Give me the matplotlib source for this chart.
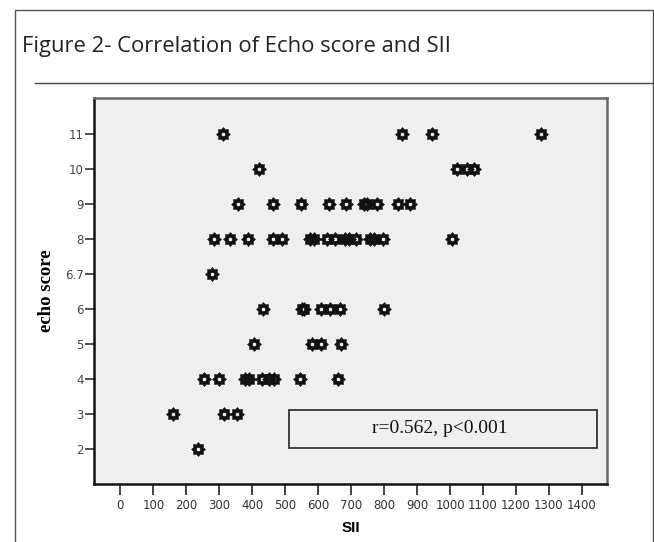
import numpy as np
import matplotlib
matplotlib.use('Agg')
import matplotlib.pyplot as plt
from matplotlib.path import Path
from matplotlib.patches import Rectangle
from matplotlib.lines import Line2D

# echo score levels as shown on the y axis (evenly spaced categories)
echo_levels = ['2', '3', '4', '5', '6', '6.7', '8', '9', '10', '11']

# SII values, grouped by echo score
sii_11 = [312, 854, 945, 1276]
sii_10 = [421, 1022, 1051, 1073]
sii_9 = [357, 463, 548, 633, 685, 738, 748, 779, 843, 879]
sii_8 = [285, 333, 388, 463, 490, 575, 588, 627, 652, 682, 692, 715, 758, 768, 797, 1006]
sii_67 = [279]
sii_6 = [434, 550, 558, 609, 636, 667, 800]
sii_5 = [406, 580, 610, 670]
sii_4 = [253, 298, 378, 390, 430, 452, 466, 545, 661]
sii_3 = [160, 315, 355]
sii_2 = [236]

groups = {'2': sii_2, '3': sii_3, '4': sii_4, '5': sii_5, '6': sii_6,
          '6.7': sii_67, '8': sii_8, '9': sii_9, '10': sii_10, '11': sii_11}

x_ticks = list(range(0, 1401, 100))
stat_text = 'r=0.562, p<0.001'

sii = []
echo_pos = []
for lvl in echo_levels:
    for v in groups[lvl]:
        sii.append(v)
        echo_pos.append(echo_levels.index(lvl))

# SPSS-like "sun" marker: 8 point star with a hole in the middle
star = Path.unit_regular_star(8, 0.72)
sv = star.vertices
ang = np.linspace(0, 2 * np.pi, 13)[::-1]
hole = np.column_stack([0.32 * np.cos(ang), 0.32 * np.sin(ang)])
verts = np.concatenate([sv, hole])
codes = [Path.MOVETO] + [Path.LINETO] * (len(sv) - 2) + [Path.CLOSEPOLY] + \
        [Path.MOVETO] + [Path.LINETO] * 11 + [Path.CLOSEPOLY]
sun = Path(verts, codes)

plt.rcParams['figure.dpi'] = 100
fig = plt.figure(figsize=(6.54, 5.42), facecolor='white')

# outer frame and header rule
fig.add_artist(Line2D([15 / 654, 15 / 654, 653 / 654, 653 / 654], [0, 1 - 10 / 542, 1 - 10 / 542, 0],
                      transform=fig.transFigure, color='#555555', lw=1.0))
fig.add_artist(Line2D([35 / 654, 1.0], [1 - 83 / 542, 1 - 83 / 542],
                      transform=fig.transFigure, color='#444444', lw=1.0))
fig.text(22 / 654, 1 - 52 / 542, 'Figure 2- Correlation of Echo score and SII',
         fontsize=15.8, family=['Open Sans', 'DejaVu Sans'], color='#222222', va='baseline')

ax = fig.add_axes([94 / 654, 58 / 542, 513 / 654, 386 / 542])
ax.set_facecolor('#efefef')
ax.scatter(sii, echo_pos, marker=sun, s=100, facecolor='#111111', edgecolor='#111111',
           linewidths=0.5, zorder=3)

ax.set_xlim(-80, 1476)
ax.set_ylim(-1.0, 10.03)
ax.set_xticks(x_ticks)
ax.set_xticklabels([str(t) for t in x_ticks], family=['Liberation Sans Narrow', 'DejaVu Sans'],
                   fontsize=8.5, color='#333333')
ax.set_yticks(range(len(echo_levels)))
ax.set_yticklabels(echo_levels, family=['Liberation Sans Narrow', 'DejaVu Sans'],
                   fontsize=8.5, color='#444444')
ax.tick_params(axis='x', length=8, width=1.2, pad=2.5, color='#222222')
ax.tick_params(axis='y', length=6.5, width=1.2, pad=1, color='#333333')

for side in ['left', 'bottom']:
    ax.spines[side].set_linewidth(1.8)
    ax.spines[side].set_color('#111111')
for side in ['top', 'right']:
    ax.spines[side].set_linewidth(1.8)
    ax.spines[side].set_color('#666666')

ax.set_xlabel('SII', fontsize=11, fontweight='bold', family=['Liberation Sans', 'DejaVu Sans'],
              labelpad=7)
ax.set_ylabel('echo score', fontsize=13.5, fontweight='bold', family=['Liberation Serif', 'DejaVu Serif'],
              labelpad=7)

# correlation box
ax.add_patch(Rectangle((0.380, 0.0935), 0.6005, 0.0985, transform=ax.transAxes,
                       facecolor='none', edgecolor='#333333', lw=1.3, zorder=4))
ax.text(0.675, 0.143, stat_text, transform=ax.transAxes, ha='center', va='center',
        fontsize=14, family=['Liberation Serif', 'DejaVu Serif'], color='#111111')

fig.savefig('out.png', dpi=100, facecolor='white')
